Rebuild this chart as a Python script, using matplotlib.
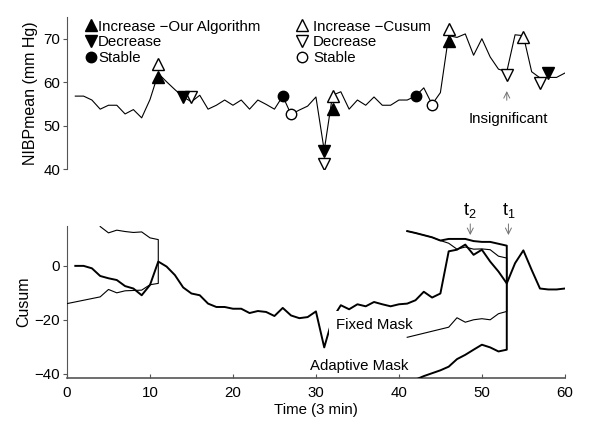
import numpy as np
import matplotlib
matplotlib.use('Agg')
import matplotlib.pyplot as plt
from matplotlib.lines import Line2D

plt.rcParams['font.family'] = ['Liberation Sans', 'DejaVu Sans']
plt.rcParams['font.size'] = 10.8
plt.rcParams['mathtext.fontset'] = 'custom'
plt.rcParams['mathtext.rm'] = 'Liberation Sans'
plt.rcParams['mathtext.it'] = 'Liberation Sans'

# top panel: mean blood pressure, one sample every 3 min
t = np.arange(1, 61)
nibp = [56.8, 56.8, 55.9, 53.8, 54.7, 54.7, 52.7, 53.7, 51.8, 56.0,
        62.0, 60.1, 58.3, 56.6, 55.5, 57.0, 53.8, 54.7, 55.9, 54.7,
        55.9, 53.8, 55.9, 54.9, 53.8, 56.8, 52.6, 53.6, 54.5, 56.6,
        44.3, 57.0, 57.8, 53.8, 55.9, 54.7, 56.6, 54.7, 54.7, 55.9,
        55.9, 56.8, 58.7, 54.9, 57.6, 70.7, 70.3, 71.1, 66.2, 70.0,
        65.8, 63.0, 62.4, 70.9, 70.7, 62.4, 61.0, 61.1, 61.1, 62.1]

# detected events
inc_ours_t, inc_ours_v = [11, 32, 46], [61.1, 53.9, 69.4]
dec_ours_t, dec_ours_v = [14, 31, 58], [56.5, 44.2, 62.0]
stb_ours_t, stb_ours_v = [26, 42], [56.8, 56.8]
inc_cus_t, inc_cus_v = [11, 32, 46, 55], [64.2, 56.8, 72.2, 70.4]
dec_cus_t, dec_cus_v = [15, 31, 53, 57], [56.5, 41.3, 61.7, 59.8]
stb_cus_t, stb_cus_v = [27, 44], [52.6, 54.8]

# bottom panel: cusum
cusum = [0, 0, -0.9, -3.75, -4.6, -5.25, -7.5, -8.4, -10.9, -7.1,
         1.6, -0.25, -3.4, -8.0, -10.25, -10.9, -14.0, -15.25, -15.25, -15.9,
         -15.9, -17.5, -16.75, -17.1, -18.6, -15.6, -18.4, -19.4, -19.0, -16.9,
         -30.25, -19.5, -14.6, -16.1, -14.25, -15.0, -13.4, -14.25, -15.0, -14.25,
         -14.0, -12.75, -9.6, -11.75, -10.25, 5.4, 6.0, 7.9, 4.1, 6.0,
         1.6, -2.1, -6.5, 1.0, 5.75, -1.5, -8.4, -8.75, -8.75, -8.4]

# V-mask at t=11
m1_up_t = [4, 5, 6, 7, 8, 9, 10, 11]
m1_up_v = [14.6, 12.25, 13.25, 12.75, 12.4, 12.6, 10.4, 9.75]
m1_lo_t = [0, 4, 5, 6, 7, 9, 10, 11]
m1_lo_v = [-14.0, -11.5, -8.75, -10.0, -9.25, -9.0, -7.0, -6.5]

# masks at t1=53
fix_up_t = [41, 42, 43, 44, 45, 46, 47, 48, 49, 50, 51, 52, 53]
fix_up_v = [12.9, 12.2, 11.4, 10.6, 9.4, 8.4, 6.2, 7.0, 6.2, 6.3, 6.0, 3.6, 2.9]
fix_lo_t = [41, 46, 47, 48, 49, 50, 51, 52, 53]
fix_lo_v = [-26.5, -22.75, -19.25, -20.9, -20.0, -19.6, -20.0, -17.75, -16.9]
ada_up_t = [41, 42, 43, 44, 45, 46, 47, 48, 49, 50, 51, 52, 53]
ada_up_v = [12.9, 12.2, 11.4, 10.6, 9.4, 10.0, 10.0, 10.0, 9.2, 8.9, 8.9, 8.2, 7.5]
ada_lo_t = [42, 43, 45, 46, 47, 48, 49, 50, 51, 52, 53]
ada_lo_v = [-42.2, -40.9, -38.75, -37.4, -34.6, -33.0, -31.1, -29.25, -30.25, -31.75, -31.1]

fig = plt.figure(figsize=(6.02, 4.24), dpi=100)
ax1 = fig.add_axes([0.1113, 0.601, 0.827, 0.359])
ax2 = fig.add_axes([0.1113, 0.1085, 0.827, 0.3585])

spine_c = '#555555'

# ---- top ----
ax1.plot(t, nibp, color='k', lw=0.8, zorder=2)
ms = 8.5
ax1.plot(inc_ours_t, inc_ours_v, '^', color='k', ms=ms, zorder=4)
ax1.plot(dec_ours_t, dec_ours_v, 'v', color='k', ms=ms, zorder=4)
ax1.plot(stb_ours_t, stb_ours_v, 'o', color='k', ms=7.5, zorder=4)
ax1.plot(inc_cus_t, inc_cus_v, '^', mfc='white', mec='k', mew=1, ms=ms, zorder=3)
ax1.plot(dec_cus_t, dec_cus_v, 'v', mfc='white', mec='k', mew=1, ms=ms, zorder=3)
ax1.plot(stb_cus_t, stb_cus_v, 'o', mfc='white', mec='k', mew=1, ms=7.5, zorder=3)

ax1.annotate('', xy=(53, 58.6), xytext=(53, 55.2),
             arrowprops=dict(arrowstyle='->', color='0.45', lw=0.7))
ax1.text(53.2, 51.6, 'Insignificant', ha='center', va='center')

ax1.set_xlim(0, 60)
ax1.set_ylim(40, 75)
ax1.set_yticks([40, 50, 60, 70])
ax1.set_xticks([])
for s in ['top', 'right', 'bottom']:
    ax1.spines[s].set_visible(False)
ax1.spines['left'].set_color(spine_c)
ax1.tick_params(axis='y', direction='out', length=3, color=spine_c, pad=2)
ax1.set_ylabel('NIBPmean (mm Hg)', labelpad=4, fontsize=11.5)

h1 = [Line2D([], [], ls='none', marker='^', color='k', ms=ms),
      Line2D([], [], ls='none', marker='v', color='k', ms=ms),
      Line2D([], [], ls='none', marker='o', color='k', ms=7.5)]
h2 = [Line2D([], [], ls='none', marker='^', mfc='white', mec='k', ms=ms),
      Line2D([], [], ls='none', marker='v', mfc='white', mec='k', ms=ms),
      Line2D([], [], ls='none', marker='o', mfc='white', mec='k', ms=7.5)]
leg1 = ax1.legend(h1, ['Increase \u2212Our Algorithm', 'Decrease', 'Stable'],
                  loc='upper left', bbox_to_anchor=(0.038, 0.982), frameon=False,
                  handlelength=0.7, handletextpad=0.1, labelspacing=0.12,
                  borderpad=0, borderaxespad=0)
ax1.add_artist(leg1)
ax1.legend(h2, ['Increase \u2212Cusum', 'Decrease', 'Stable'],
           loc='upper left', bbox_to_anchor=(0.461, 0.982), frameon=False,
           handlelength=0.7, handletextpad=0.4, labelspacing=0.12,
           borderpad=0, borderaxespad=0)

# ---- bottom ----
ax2.plot(t, cusum, color='k', lw=1.4, zorder=1)
ax2.plot(m1_up_t + m1_lo_t[::-1], m1_up_v + m1_lo_v[::-1], color='k', lw=0.8, zorder=3)
ax2.plot(fix_up_t + fix_lo_t[::-1], fix_up_v + fix_lo_v[::-1], color='k', lw=0.8, zorder=3)
ax2.plot(ada_up_t + ada_lo_t[::-1], ada_up_v + ada_lo_v[::-1], color='k', lw=1.4, zorder=3)

ax2.text(32.4, -22, 'Fixed Mask', ha='left', va='center', zorder=2,
         bbox=dict(facecolor='white', edgecolor='none', pad=5))
ax2.text(29.3, -37, 'Adaptive Mask', ha='left', va='center')

for tx, lab in [(48.6, r'$\mathrm{t}_2$'), (53.2, r'$\mathrm{t}_1$')]:
    ax2.annotate('', xy=(tx, 10.4), xytext=(tx, 16.6), annotation_clip=False,
                 arrowprops=dict(arrowstyle='->', color='0.45', lw=0.7))
    ax2.text(tx, 16.9, lab, ha='center', va='bottom', fontsize=13, clip_on=False)

ax2.set_xlim(0, 60)
ax2.set_ylim(-41.6, 14.8)
ax2.set_xticks(range(0, 61, 10))
ax2.set_yticks([-40, -20, 0])
for s in ['top', 'right']:
    ax2.spines[s].set_visible(False)
ax2.spines['left'].set_color(spine_c)
ax2.spines['bottom'].set_color(spine_c)
ax2.spines['bottom'].set_linewidth(1.2)
ax2.tick_params(axis='x', direction='in', length=3, color=spine_c, pad=6)
ax2.tick_params(axis='y', direction='out', length=3, color=spine_c, pad=2)
ax2.set_ylabel('Cusum', labelpad=2, fontsize=11.5)
ax2.set_xlabel('Time (3 min)', labelpad=2)

fig.savefig('out.png', dpi=100)
